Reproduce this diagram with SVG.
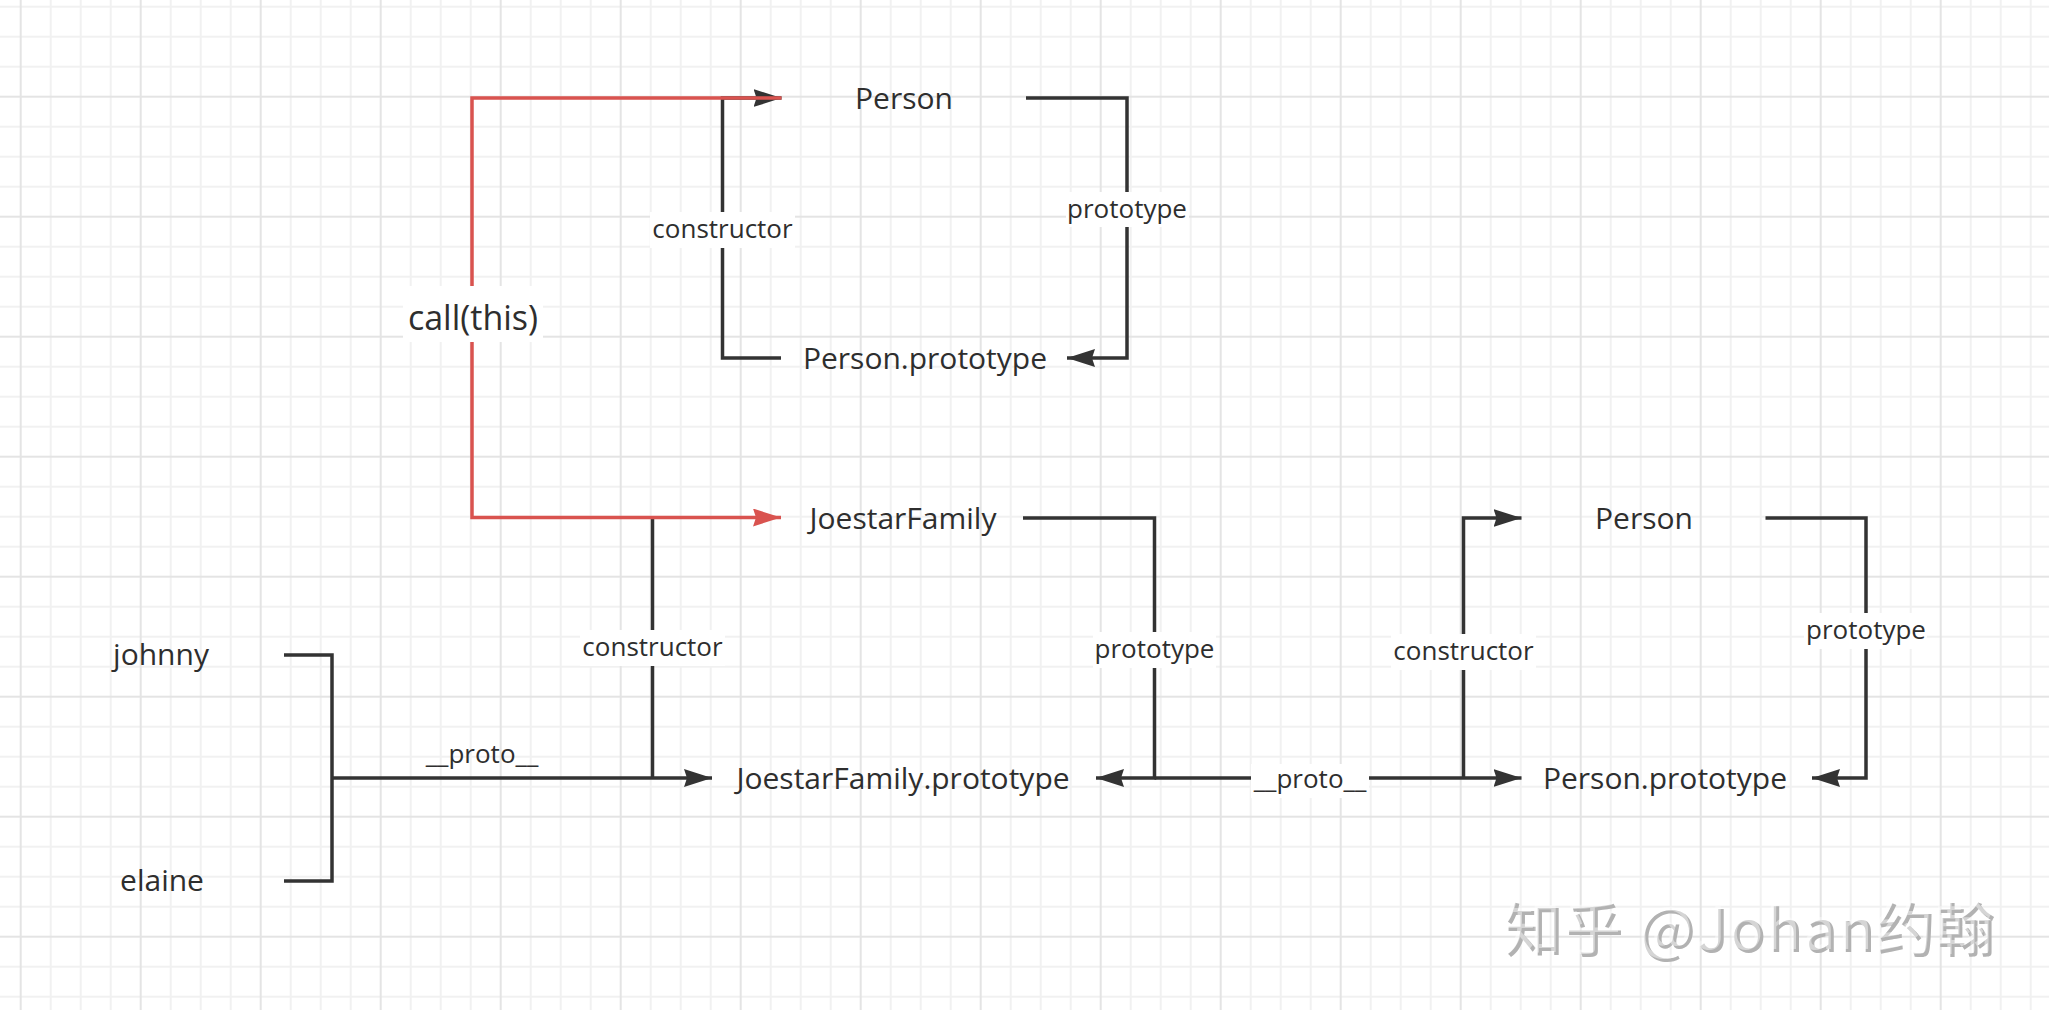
<svg xmlns="http://www.w3.org/2000/svg" width="2049" height="1010" viewBox="0 0 2049 1010">
<style>
.node{font-family:"Open Sans","Noto Sans",sans-serif;font-size:30px;fill:#2e2e2e;text-anchor:middle}
.lbl{font-family:"Open Sans","Noto Sans",sans-serif;font-size:26px;fill:#2e2e2e;text-anchor:middle}
.call{font-family:"Open Sans","Noto Sans",sans-serif;font-size:34px;fill:#2e2e2e;text-anchor:middle}
.ln{fill:none;stroke:#333333;stroke-width:3.5}
.red{fill:none;stroke:#d9534f;stroke-width:3.5}
.box{fill:#ffffff}
.wm{font-family:"Noto Sans CJK SC","Noto Sans",sans-serif;font-size:58px}
</style>
<defs>
<pattern id="grid" patternUnits="userSpaceOnUse" x="19.7" y="95.7" width="120" height="120">
<path d="M31 0V120M61 0V120M91 0V120M0 31H120M0 61H120M0 91H120" stroke="#f1f1f1" stroke-width="2" fill="none"/>
<path d="M1 0V120M0 1H120" stroke="#e4e4e4" stroke-width="2" fill="none"/>
</pattern>
<marker id="ab" markerUnits="userSpaceOnUse" markerWidth="28" markerHeight="18" refX="28" refY="9" orient="auto">
<path d="M0 0L28 9L0 18L3 9Z" fill="#333333"/>
</marker>
<marker id="ar" markerUnits="userSpaceOnUse" markerWidth="28" markerHeight="18" refX="28" refY="9" orient="auto">
<path d="M0 0L28 9L0 18L3 9Z" fill="#d9534f"/>
</marker>
</defs>
<rect x="0" y="0" width="2049" height="1010" fill="#ffffff"/>
<rect x="0" y="0" width="2049" height="1010" fill="url(#grid)"/>

<g id="connectors">
<path class="ln" d="M781 358H722.5V98H781.5" marker-end="url(#ab)"/>
<path class="ln" d="M1026 98H1127V358H1067" marker-end="url(#ab)"/>
<path class="ln" d="M652.5 778V518"/>
<path class="ln" d="M1023 518H1154.5V778H1096" marker-end="url(#ab)"/>
<path class="ln" d="M284 655H332V881H284"/>
<path class="ln" d="M332 778H712" marker-end="url(#ab)"/>
<path class="ln" d="M1154.5 778H1521.5" marker-end="url(#ab)"/>
<path class="ln" d="M1463.5 778V518H1521.5" marker-end="url(#ab)"/>
<path class="ln" d="M1765.5 518H1866V778H1812" marker-end="url(#ab)"/>
<path class="red" d="M781.5 98H472V517.5H781" marker-end="url(#ar)"/>

<g id="label-call">
<rect class="box" x="403" y="286" width="140" height="56"/>
<text class="call" x="473" y="330">call(this)</text>
</g>
<g id="label-constructor-1">
<rect class="box" x="650" y="212" width="145" height="36"/>
<text class="lbl" x="722.5" y="238">constructor</text>
</g>
<g id="label-prototype-1">
<rect class="box" x="1066" y="192" width="123" height="35"/>
<text class="lbl" x="1127" y="217.5">prototype</text>
</g>
<g id="label-constructor-2">
<rect class="box" x="580" y="630" width="145" height="36"/>
<text class="lbl" x="652.5" y="656">constructor</text>
</g>
<g id="label-prototype-2">
<rect class="box" x="1093" y="632" width="123" height="36"/>
<text class="lbl" x="1154.5" y="658">prototype</text>
</g>
<g id="label-proto-1">
<text class="lbl" x="482" y="763">__proto__</text>
</g>
<g id="label-proto-2">
<rect class="box" x="1251" y="764" width="118" height="34"/>
<text class="lbl" x="1310" y="788">__proto__</text>
</g>
<g id="label-constructor-3">
<rect class="box" x="1391" y="634" width="145" height="36"/>
<text class="lbl" x="1463.5" y="660">constructor</text>
</g>
<g id="label-prototype-3">
<rect class="box" x="1804" y="613" width="123" height="36"/>
<text class="lbl" x="1866" y="639">prototype</text>
</g>
</g>

<g id="node-person-top"><text class="node" x="904" y="108.5">Person</text></g>
<g id="node-person-prototype-top"><text class="node" x="925" y="368.5">Person.prototype</text></g>
<g id="node-joestarfamily"><text class="node" x="903" y="528.5">JoestarFamily</text></g>
<g id="node-joestarfamily-prototype"><text class="node" x="903" y="788.5">JoestarFamily.prototype</text></g>
<g id="node-person-right"><text class="node" x="1644" y="528.5">Person</text></g>
<g id="node-person-prototype-right"><text class="node" x="1665" y="788.5">Person.prototype</text></g>
<g id="node-johnny"><text class="node" x="161" y="665">johnny</text></g>
<g id="node-elaine"><text class="node" x="162" y="891">elaine</text></g>

<g id="watermark">
<text class="wm" x="1506" y="952" fill="#b2b2b2" textLength="490" lengthAdjust="spacing">知乎 @Johan约翰</text>
<text class="wm" x="1503" y="949" fill="#ffffff" fill-opacity="0.45" textLength="490" lengthAdjust="spacing">知乎 @Johan约翰</text>
</g>
</svg>
